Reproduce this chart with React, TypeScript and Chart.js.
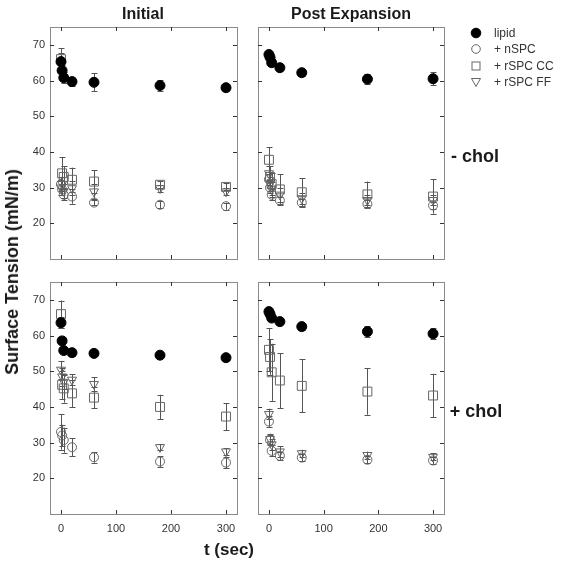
import React, { useEffect, useRef } from "react";
import { Chart, registerables } from "chart.js";

Chart.register(...registerables);

// ---------- data ----------
const TIMES = [0, 2, 5, 20, 60, 180, 300];
const X_TICKS = [0, 100, 200, 300];
const Y_TICKS = [20, 30, 40, 50, 60, 70];
const SERIES_NAMES = ["lipid", "+ nSPC", "+ rSPC CC", "+ rSPC FF"];

// Initial, - chol
const INIT_NOCHOL_LIPID = [65.3, 62.8, 60.8, 59.7, 59.5, 58.6, 58.0];
const INIT_NOCHOL_LIPID_ERR = [2.5, 1.5, 1.5, 1.2, 2.5, 1.5, 0.8];
const INIT_NOCHOL_NSPC = [31, 29.5, 28, 27.5, 25.8, 25.2, 24.8];
const INIT_NOCHOL_NSPC_ERR = [2, 1.5, 1.5, 2, 0.8, 1, 1];
const INIT_NOCHOL_CC = [66, 34, 33, 32.2, 31.7, 30.8, 30.2];
const INIT_NOCHOL_CC_ERR = [3, 4.5, 3, 3.4, 3.2, 1, 1];
const INIT_NOCHOL_FF = [30, 31, 29, 29.8, 28.9, 29.8, 28.9];
const INIT_NOCHOL_FF_ERR = [2, 2, 2, 2, 2, 1, 1];

// Post Expansion, - chol
const POST_NOCHOL_LIPID = [67.3, 66.5, 65, 63.6, 62.2, 60.4, 60.5];
const POST_NOCHOL_LIPID_ERR = [1, 1, 1, 0.8, 0.8, 1.3, 1.8];
const POST_NOCHOL_NSPC = [32.3, 30, 28, 26.4, 25.8, 25.4, 25];
const POST_NOCHOL_NSPC_ERR = [1.5, 1.5, 1.5, 1, 1, 1, 1];
const POST_NOCHOL_CC = [37.8, 33, 31, 29.5, 28.7, 28.1, 27.5];
const POST_NOCHOL_CC_ERR = [3.5, 3, 3, 4.3, 4, 3.6, 4.8];
const POST_NOCHOL_FF = [34, 31, 29.5, 28, 27, 26.5, 26.5];
const POST_NOCHOL_FF_ERR = [2, 2, 2, 2, 1.5, 1.5, 1.5];

// Initial, + chol
const INIT_CHOL_LIPID = [63.6, 58.5, 55.8, 55.2, 55, 54.5, 53.8];
const INIT_CHOL_LIPID_ERR = [1.5, 1, 0.8, 0.8, 0.8, 0.8, 0.8];
const INIT_CHOL_NSPC = [33, 32, 30.7, 28.7, 25.9, 24.7, 24.4];
const INIT_CHOL_NSPC_ERR = [5, 3, 3.5, 2.5, 1.5, 1.5, 1.5];
const INIT_CHOL_CC = [66, 46.2, 45.2, 43.8, 42.6, 40, 37.3];
const INIT_CHOL_CC_ERR = [3.8, 4, 4, 3.8, 3, 3.4, 3.8];
const INIT_CHOL_FF = [50.4, 48.5, 47, 47.6, 46.4, 28.7, 27.5];
const INIT_CHOL_FF_ERR = [2.5, 2.5, 2, 1.5, 2, 0.8, 1];

// Post Expansion, + chol
const POST_CHOL_LIPID = [66.7, 66, 64.9, 63.9, 62.5, 61.1, 60.5];
const POST_CHOL_LIPID_ERR = [0.7, 0.7, 0.7, 0.7, 1, 1.5, 1.5];
const POST_CHOL_NSPC = [35.9, 30.7, 27.7, 26.3, 25.8, 25.2, 25];
const POST_CHOL_NSPC_ERR = [1.5, 1.5, 1.5, 1.2, 1, 1, 1];
const POST_CHOL_CC = [56, 54, 49.7, 47.4, 45.9, 44.3, 43.2];
const POST_CHOL_CC_ERR = [6, 5, 8, 7.7, 7.4, 6.5, 6.1];
const POST_CHOL_FF = [38, 31, 29.5, 27.5, 27, 26.5, 26];
const POST_CHOL_FF_ERR = [1.5, 1.5, 1.5, 1.5, 1, 1, 1];

// ---------- layout / style ----------
const W = 562;
const H = 569;
const FONT = "'Liberation Sans', Arial, sans-serif";
const OPEN_COLOR = "#666";

const STYLES = [
  { pointStyle: "circle", radius: 5, border: "#000", bg: "#000", rotation: 0 },
  { pointStyle: "circle", radius: 4.5, border: OPEN_COLOR, bg: "rgba(0,0,0,0)", rotation: 0 },
  { pointStyle: "rect", radius: 6.3, border: OPEN_COLOR, bg: "rgba(0,0,0,0)", rotation: 0 },
  { pointStyle: "triangle", radius: 5.2, border: OPEN_COLOR, bg: "rgba(0,0,0,0)", rotation: 180 },
];

const PANELS = [
  {
    box: { left: 50, right: 237, top: 27, bottom: 259 }, yLabels: true, xLabels: false,
    values: [INIT_NOCHOL_LIPID, INIT_NOCHOL_NSPC, INIT_NOCHOL_CC, INIT_NOCHOL_FF],
    errors: [INIT_NOCHOL_LIPID_ERR, INIT_NOCHOL_NSPC_ERR, INIT_NOCHOL_CC_ERR, INIT_NOCHOL_FF_ERR],
  },
  {
    box: { left: 258, right: 444, top: 27, bottom: 259 }, yLabels: false, xLabels: false,
    values: [POST_NOCHOL_LIPID, POST_NOCHOL_NSPC, POST_NOCHOL_CC, POST_NOCHOL_FF],
    errors: [POST_NOCHOL_LIPID_ERR, POST_NOCHOL_NSPC_ERR, POST_NOCHOL_CC_ERR, POST_NOCHOL_FF_ERR],
  },
  {
    box: { left: 50, right: 237, top: 282, bottom: 514 }, yLabels: true, xLabels: true,
    values: [INIT_CHOL_LIPID, INIT_CHOL_NSPC, INIT_CHOL_CC, INIT_CHOL_FF],
    errors: [INIT_CHOL_LIPID_ERR, INIT_CHOL_NSPC_ERR, INIT_CHOL_CC_ERR, INIT_CHOL_FF_ERR],
  },
  {
    box: { left: 258, right: 444, top: 282, bottom: 514 }, yLabels: false, xLabels: true,
    values: [POST_CHOL_LIPID, POST_CHOL_NSPC, POST_CHOL_CC, POST_CHOL_FF],
    errors: [POST_CHOL_LIPID_ERR, POST_CHOL_NSPC_ERR, POST_CHOL_CC_ERR, POST_CHOL_FF_ERR],
  },
];

const Y_AXIS_W = 40;
const X_AXIS_H = 26;

const framePlugin = {
  id: "frameAndErrors",
  beforeDatasetsDraw(chart: any) {
    const ctx = chart.ctx;
    const xs = chart.scales.x;
    const ys = chart.scales.y;
    ctx.save();
    ctx.strokeStyle = "#555";
    ctx.lineWidth = 1;
    chart.data.datasets.forEach((ds: any) => {
      const errs = ds.errors || [];
      ds.data.forEach((p: any, j: number) => {
        const e = errs[j];
        if (!e) return;
        const px = Math.round(xs.getPixelForValue(p.x)) + 0.5;
        const y1 = ys.getPixelForValue(p.y + e);
        const y2 = ys.getPixelForValue(p.y - e);
        ctx.beginPath();
        ctx.moveTo(px, y1);
        ctx.lineTo(px, y2);
        ctx.moveTo(px - 3, Math.round(y1) + 0.5);
        ctx.lineTo(px + 3, Math.round(y1) + 0.5);
        ctx.moveTo(px - 3, Math.round(y2) + 0.5);
        ctx.lineTo(px + 3, Math.round(y2) + 0.5);
        ctx.stroke();
      });
    });
    ctx.restore();
  },
  afterDraw(chart: any) {
    const ctx = chart.ctx;
    const a = chart.chartArea;
    const xs = chart.scales.x;
    const ys = chart.scales.y;
    ctx.save();
    ctx.strokeStyle = "#8a8a8a";
    ctx.lineWidth = 1;
    ctx.strokeRect(Math.round(a.left) + 0.5, Math.round(a.top) + 0.5, Math.round(a.right - a.left), Math.round(a.bottom - a.top));
    ctx.strokeStyle = "#333";
    const tl = 4;
    ctx.beginPath();
    xs.ticks.forEach((t: any) => {
      const px = Math.round(xs.getPixelForValue(t.value)) + 0.5;
      ctx.moveTo(px, a.top);
      ctx.lineTo(px, a.top + tl);
      ctx.moveTo(px, a.bottom);
      ctx.lineTo(px, a.bottom - tl);
    });
    ys.ticks.forEach((t: any) => {
      const py = Math.round(ys.getPixelForValue(t.value)) + 0.5;
      ctx.moveTo(a.left, py);
      ctx.lineTo(a.left + tl, py);
      ctx.moveTo(a.right, py);
      ctx.lineTo(a.right - tl, py);
    });
    ctx.stroke();
    ctx.restore();
  },
};

function makeConfig(panel: any) {
  const yW = panel.yLabels ? Y_AXIS_W : 0;
  const xH = panel.xLabels ? X_AXIS_H : 0;
  const b = panel.box;
  return {
    type: "scatter",
    data: {
      datasets: panel.values.map((vals: number[], i: number) => ({
        label: SERIES_NAMES[i],
        data: vals.map((v, j) => ({ x: TIMES[j], y: v })),
        errors: panel.errors[i],
        pointStyle: STYLES[i].pointStyle,
        pointRadius: STYLES[i].radius,
        pointRotation: STYLES[i].rotation,
        pointBorderColor: STYLES[i].border,
        pointBackgroundColor: STYLES[i].bg,
        pointBorderWidth: 1,
        showLine: false,
      })),
    },
    options: {
      animation: false,
      responsive: false,
      devicePixelRatio: 1,
      events: [],
      layout: {
        autoPadding: false,
        padding: {
          left: b.left - yW,
          right: W - b.right,
          top: b.top,
          bottom: H - b.bottom - xH,
        },
      },
      plugins: { legend: { display: false }, tooltip: { enabled: false }, title: { display: false } },
      scales: {
        x: {
          type: "linear",
          min: -20,
          max: 320,
          grid: { display: false, drawTicks: false },
          border: { display: false },
          afterBuildTicks: (s: any) => { s.ticks = X_TICKS.map((v) => ({ value: v })); },
          afterFit: (s: any) => { s.height = xH; },
          ticks: {
            display: panel.xLabels,
            padding: 8,
            color: "#333",
            font: { family: FONT, size: 11 },
            callback: (v: any) => String(v),
          },
        },
        y: {
          type: "linear",
          min: 10,
          max: 75,
          grid: { display: false, drawTicks: false },
          border: { display: false },
          afterBuildTicks: (s: any) => { s.ticks = Y_TICKS.map((v) => ({ value: v })); },
          afterFit: (s: any) => { s.width = yW; },
          ticks: {
            display: panel.yLabels,
            padding: 5,
            color: "#333",
            font: { family: FONT, size: 11 },
            callback: (v: any) => String(v),
          },
        },
      },
    },
    plugins: [framePlugin],
  };
}

function LegendSymbol({ i }: { i: number }) {
  const s = STYLES[i];
  const c = 6;
  let shape: any = null;
  if (s.pointStyle === "circle") {
    shape = <circle cx={c} cy={c} r={i === 0 ? 4.8 : 4.3} fill={i === 0 ? "#000" : "none"} stroke={s.border} strokeWidth={1} />;
  } else if (s.pointStyle === "rect") {
    shape = <rect x={2} y={2} width={8} height={8} fill="none" stroke={s.border} strokeWidth={1} />;
  } else {
    shape = <polygon points="1.5,2.5 10.5,2.5 6,10.5" fill="none" stroke={s.border} strokeWidth={1} />;
  }
  return (
    <svg width={12} height={12} style={{ position: "absolute", left: 0, top: 0 }}>
      {shape}
    </svg>
  );
}

export default function App() {
  const refs = [useRef<HTMLCanvasElement>(null), useRef<HTMLCanvasElement>(null), useRef<HTMLCanvasElement>(null), useRef<HTMLCanvasElement>(null)];

  useEffect(() => {
    const charts = PANELS.map((p, i) => new Chart(refs[i].current as HTMLCanvasElement, makeConfig(p) as any));
    return () => charts.forEach((c) => c.destroy());
  }, []);

  const boldText = (text: string, x: number, y: number, size: number, extra: any = {}) => (
    <div
      style={{
        position: "absolute",
        left: x,
        top: y,
        transform: "translate(-50%, -50%)" + (extra.rotate ? " rotate(-90deg)" : ""),
        fontFamily: FONT,
        fontWeight: "bold",
        fontSize: size,
        color: "#1a1a1a",
        whiteSpace: "nowrap",
        lineHeight: 1,
      }}
    >
      {text}
    </div>
  );

  const legendRows = [33, 49, 66, 82];

  return (
    <div style={{ position: "absolute", left: 0, top: 0, width: W, height: H, background: "#fff", overflow: "hidden" }}>
      {refs.map((r, i) => (
        <canvas key={i} ref={r} width={W} height={H} style={{ position: "absolute", left: 0, top: 0, width: W, height: H }} />
      ))}
      {boldText("Initial", 143, 14, 16)}
      {boldText("Post Expansion", 351, 14, 16)}
      {boldText("Surface Tension (mN/m)", 12, 272, 18, { rotate: true })}
      {boldText("t (sec)", 229, 549, 17)}
      {boldText("- chol", 475, 156, 18)}
      {boldText("+ chol", 476, 411, 18)}
      {SERIES_NAMES.map((name, i) => (
        <div key={name} style={{ position: "absolute", left: 470, top: legendRows[i] - 6, height: 12, width: 92 }}>
          <LegendSymbol i={i} />
          <span style={{ position: "absolute", left: 24, top: -1, fontFamily: FONT, fontSize: 12, color: "#333", whiteSpace: "nowrap", lineHeight: "14px" }}>
            {name}
          </span>
        </div>
      ))}
    </div>
  );
}
